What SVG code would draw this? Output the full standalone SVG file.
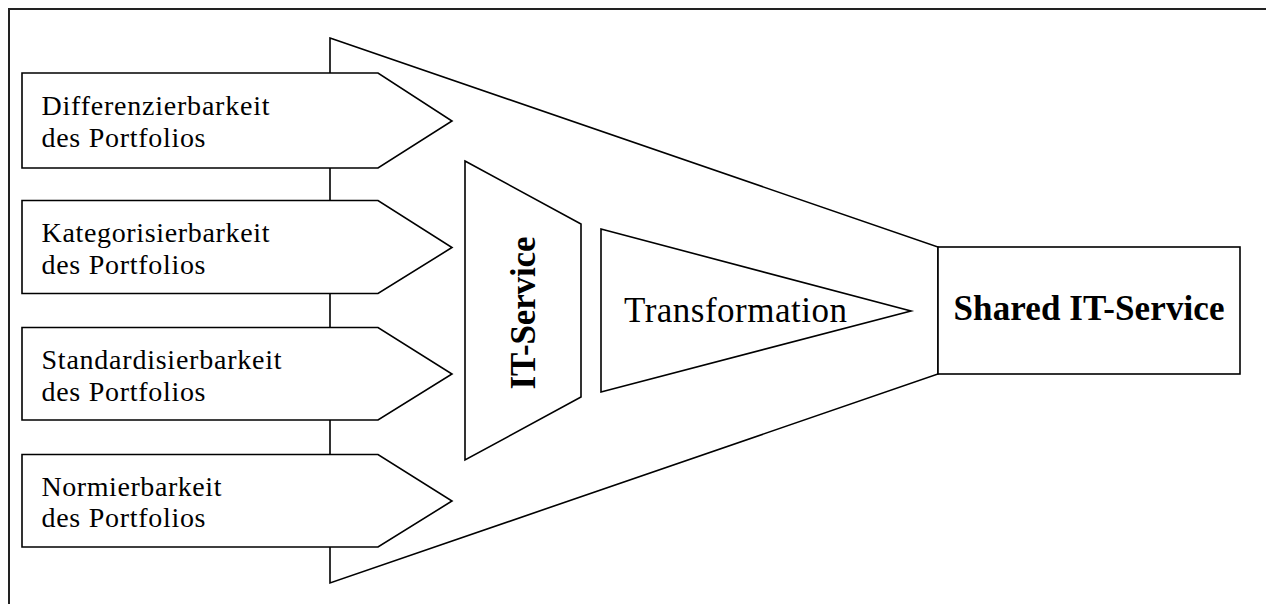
<svg xmlns="http://www.w3.org/2000/svg" width="1266" height="604" viewBox="0 0 1266 604">
  <style>
    .shape { fill: #ffffff; stroke: #000000; stroke-width: 1.6; stroke-linejoin: miter; }
    .frame { fill: none; stroke: #222222; stroke-width: 2; }
    .lbl { font-family: "Liberation Serif", "Times New Roman", serif; font-size: 28px; fill: #000000; }
    .big { font-family: "Liberation Serif", "Times New Roman", serif; font-size: 35px; fill: #000000; }
    .bold { font-weight: bold; }
  </style>

  <rect width="1266" height="604" fill="#ffffff"/>

  <!-- outer frame: top and left border -->
  <g id="frame">
    <path class="frame" d="M9,604 V9 H1266"/>
  </g>

  <!-- connectors: funnel leading into the shared service -->
  <g id="connectors">
    <polygon id="funnel" class="shape" points="330,38 938,247 938,374 330,583"/>
  </g>

  <!-- input arrows -->
  <g id="node-differenzierbarkeit">
    <polygon class="shape" points="22,73 378,73 452,121 378,168 22,168"/>
    <text class="lbl" x="41.5" y="115" textLength="228" lengthAdjust="spacing">Differenzierbarkeit</text>
    <text class="lbl" x="41.5" y="146.5" textLength="164" lengthAdjust="spacing">des Portfolios</text>
  </g>

  <g id="node-kategorisierbarkeit">
    <polygon class="shape" points="22,200.5 378,200.5 452,247.5 378,293.5 22,293.5"/>
    <text class="lbl" x="41.5" y="242" textLength="228" lengthAdjust="spacing">Kategorisierbarkeit</text>
    <text class="lbl" x="41.5" y="273.5" textLength="164" lengthAdjust="spacing">des Portfolios</text>
  </g>

  <g id="node-standardisierbarkeit">
    <polygon class="shape" points="22,327.5 378,327.5 452,374 378,420 22,420"/>
    <text class="lbl" x="41.5" y="369" textLength="240" lengthAdjust="spacing">Standardisierbarkeit</text>
    <text class="lbl" x="41.5" y="400.5" textLength="164" lengthAdjust="spacing">des Portfolios</text>
  </g>

  <g id="node-normierbarkeit">
    <polygon class="shape" points="22,454.5 378,454.5 452,501 378,547 22,547"/>
    <text class="lbl" x="41.5" y="495.5" textLength="180" lengthAdjust="spacing">Normierbarkeit</text>
    <text class="lbl" x="41.5" y="527" textLength="164" lengthAdjust="spacing">des Portfolios</text>
  </g>

  <!-- IT-Service stage -->
  <g id="node-it-service">
    <polygon class="shape" points="465,161 581,224 581,397 465,460"/>
    <text class="big bold" transform="translate(535,313) rotate(-90)" text-anchor="middle" font-size="36" textLength="153" lengthAdjust="spacing">IT-Service</text>
  </g>

  <!-- Transformation stage -->
  <g id="node-transformation">
    <polygon class="shape" points="601,229 911,311 601,392"/>
    <text class="big" x="624" y="321.5" textLength="223" lengthAdjust="spacing">Transformation</text>
  </g>

  <!-- Result -->
  <g id="node-shared-it-service">
    <rect class="shape" x="938" y="247" width="302" height="127"/>
    <text class="big bold" x="1089" y="319.5" font-size="32" text-anchor="middle" textLength="271" lengthAdjust="spacing">Shared IT-Service</text>
  </g>
</svg>
